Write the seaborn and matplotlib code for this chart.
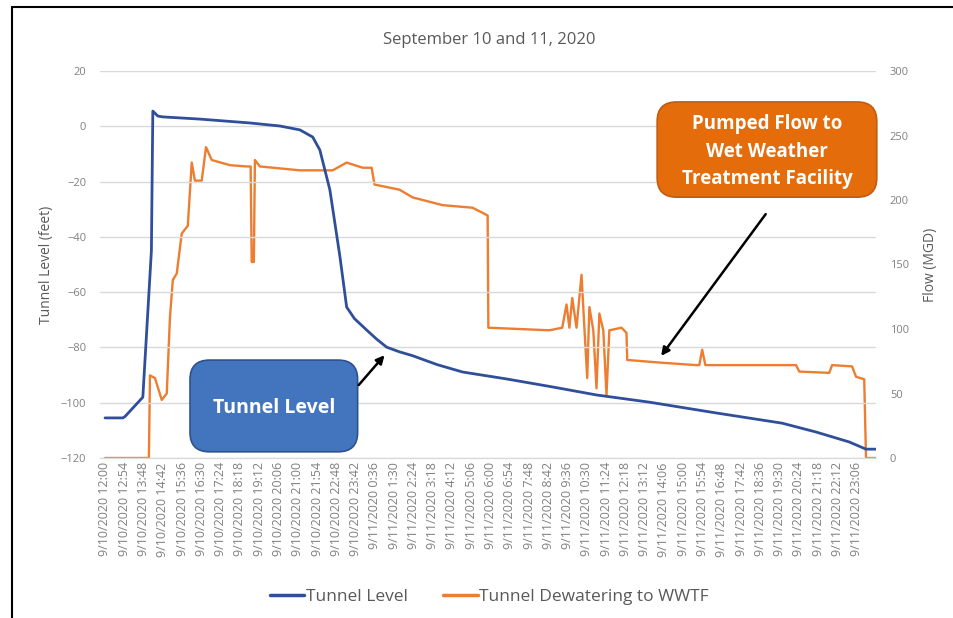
import pandas as pd
import seaborn as sns
import matplotlib.pyplot as plt
from matplotlib.lines import Line2D
from matplotlib.patches import FancyBboxPatch

# Tunnel level (feet)
level_times = [
    "2020-09-10 12:00", "2020-09-10 12:50", "2020-09-10 12:56", "2020-09-10 13:46",
    "2020-09-10 14:10", "2020-09-10 14:14", "2020-09-10 14:28", "2020-09-10 14:42",
    "2020-09-10 16:26", "2020-09-10 18:46", "2020-09-10 20:10", "2020-09-10 21:06",
    "2020-09-10 21:42", "2020-09-10 22:02", "2020-09-10 22:30", "2020-09-10 22:58",
    "2020-09-10 23:17", "2020-09-10 23:39", "2020-09-11 00:13", "2020-09-11 00:41",
    "2020-09-11 01:09", "2020-09-11 01:45", "2020-09-11 02:22", "2020-09-11 03:30",
    "2020-09-11 04:42", "2020-09-11 06:45", "2020-09-11 08:54", "2020-09-11 10:57",
    "2020-09-11 13:25", "2020-09-11 16:32", "2020-09-11 19:37", "2020-09-11 21:12",
    "2020-09-11 22:45", "2020-09-11 23:32", "2020-09-12 00:00",
]
level_ft = [
    -105.5, -105.5, -105.0, -98.0,
    -45.0, 5.5, 3.7, 3.4,
    2.6, 1.2, 0.1, -1.3,
    -3.9, -8.6, -23.0, -47.0,
    -65.4, -69.6, -73.7, -77.0,
    -79.9, -81.6, -83.0, -86.2,
    -88.9, -91.4, -94.3, -97.2,
    -99.8, -103.7, -107.4, -110.6,
    -114.2, -116.8, -116.8,
]

# Tunnel dewatering flow to WWTF (MGD)
flow_times = [
    "2020-09-10 12:00", "2020-09-10 14:03", "2020-09-10 14:06", "2020-09-10 14:20",
    "2020-09-10 14:39", "2020-09-10 14:53", "2020-09-10 15:02", "2020-09-10 15:10",
    "2020-09-10 15:21", "2020-09-10 15:35", "2020-09-10 15:52", "2020-09-10 16:03",
    "2020-09-10 16:12", "2020-09-10 16:31", "2020-09-10 16:43", "2020-09-10 16:59",
    "2020-09-10 17:50", "2020-09-10 18:37", "2020-09-10 18:48", "2020-09-10 18:51",
    "2020-09-10 18:57", "2020-09-10 19:00", "2020-09-10 19:14", "2020-09-10 21:06",
    "2020-09-10 22:38", "2020-09-10 23:17", "2020-09-11 00:02", "2020-09-11 00:27",
    "2020-09-11 00:35", "2020-09-11 01:45", "2020-09-11 02:22", "2020-09-11 03:46",
    "2020-09-11 05:10", "2020-09-11 05:52", "2020-09-11 05:54", "2020-09-11 08:45",
    "2020-09-11 09:21", "2020-09-11 09:33", "2020-09-11 09:41", "2020-09-11 09:49",
    "2020-09-11 10:01", "2020-09-11 10:15", "2020-09-11 10:23", "2020-09-11 10:31",
    "2020-09-11 10:37", "2020-09-11 10:48", "2020-09-11 10:57", "2020-09-11 11:05",
    "2020-09-11 11:16", "2020-09-11 11:25", "2020-09-11 11:33", "2020-09-11 12:07",
    "2020-09-11 12:21", "2020-09-11 12:23", "2020-09-11 13:53", "2020-09-11 15:36",
    "2020-09-11 15:45", "2020-09-11 15:53", "2020-09-11 16:02", "2020-09-11 20:16",
    "2020-09-11 20:25", "2020-09-11 21:49", "2020-09-11 21:57", "2020-09-11 22:53",
    "2020-09-11 23:04", "2020-09-11 23:27", "2020-09-11 23:32", "2020-09-12 00:00",
]
flow_mgd = [
    0, 0, 64, 62,
    45, 50, 109, 138,
    143, 174, 180, 229,
    215, 215, 241, 231,
    227, 226, 226, 152,
    152, 231, 226, 223,
    223, 229, 225, 225,
    212, 208, 202, 196,
    194, 188, 101, 99,
    101, 119, 101, 124,
    101, 142, 101, 62,
    117, 99, 54, 112,
    99, 49, 99, 101,
    97, 76, 74, 72,
    72, 84, 72, 72,
    67, 66, 72, 71,
    63, 61, 0, 0,
]

level_df = pd.DataFrame({"Time": pd.to_datetime(level_times), "Level": level_ft})
flow_df = pd.DataFrame({"Time": pd.to_datetime(flow_times), "Flow": flow_mgd})

blue = "#2F4F9A"
orange = "#ED7D31"
gray = "#595959"
light = "#808080"

sns.set_style("white")
plt.rcParams["font.family"] = ["Open Sans", "DejaVu Sans"]

fig = plt.figure(figsize=(9.54, 6.18), dpi=100)
ax = fig.add_axes([100 / 954, 1 - 458 / 618, 776 / 954, 387 / 618])
ax2 = ax.twinx()

sns.lineplot(x="Time", y="Level", data=level_df, ax=ax, color=blue, linewidth=2.0, legend=False)
sns.lineplot(x="Time", y="Flow", data=flow_df, ax=ax2, color=orange, linewidth=1.7, legend=False)
ax.set_zorder(ax2.get_zorder() + 1)
ax.patch.set_visible(False)

# axes limits and ticks
ax.set_ylim(-120, 20)
ax.set_yticks(range(-120, 21, 20))
ax2.set_ylim(0, 300)
ax2.set_yticks(range(0, 301, 50))
ax.set_xlim(pd.Timestamp("2020-09-10 11:46"), pd.Timestamp("2020-09-12 00:00"))

xticks = pd.date_range("2020-09-10 12:00", "2020-09-11 23:06", freq="54min")
ax.set_xticks(xticks)
ax.set_xticklabels([f"{t.month}/{t.day}/{t.year} {t.hour}:{t.minute:02d}" for t in xticks],
                   rotation=90, fontsize=9, color=light)

ax.grid(axis="y", color="#D9D9D9", linewidth=1)
ax.tick_params(axis="y", labelsize=8, colors=light, length=0, pad=10)
ax2.tick_params(axis="y", labelsize=8, colors=light, length=0, pad=10)
ax.tick_params(axis="x", length=0, pad=3)
for a in (ax, ax2):
    for side in ("top", "left", "right"):
        a.spines[side].set_visible(False)
    a.spines["bottom"].set_color("#D9D9D9")

ax.set_xlabel("")
ax.set_ylabel("Tunnel Level (feet)", fontsize=10, color=gray, labelpad=5)
ax2.set_ylabel("Flow (MGD)", fontsize=10, color=gray, labelpad=10)

fig.text(0.513, 1 - 40 / 618, "September 10 and 11, 2020", ha="center", va="center",
         fontsize=12, color=gray)

# callout boxes
tl_box = FancyBboxPatch((0.116, 0.016), 0.216, 0.237, transform=ax.transAxes,
                        boxstyle="round,pad=0,rounding_size=0.025", mutation_aspect=2.0,
                        facecolor="#4275BD", edgecolor="#2F528F", linewidth=1.2, zorder=5,
                        clip_on=False)
ax.add_patch(tl_box)
ax.text(0.224, 0.128, "Tunnel Level", transform=ax.transAxes, ha="center", va="center",
        fontsize=14, fontweight="bold", color="white", zorder=6)

pf_box = FancyBboxPatch((0.718, 0.674), 0.283, 0.246, transform=ax.transAxes,
                        boxstyle="round,pad=0,rounding_size=0.025", mutation_aspect=2.0,
                        facecolor="#E46C0A", edgecolor="#C55A11", linewidth=1.2, zorder=5,
                        clip_on=False)
ax.add_patch(pf_box)
ax.text(0.8595, 0.791, "Pumped Flow to\nWet Weather\nTreatment Facility", transform=ax.transAxes,
        ha="center", va="center", fontsize=13.5, fontweight="bold", color="white",
        linespacing=1.5, zorder=6)

ax.annotate("", xy=(0.369, 0.271), xytext=(0.331, 0.183), xycoords="axes fraction",
            arrowprops=dict(arrowstyle="-|>", color="black", lw=1.8, mutation_scale=12), zorder=6)
ax.annotate("", xy=(0.721, 0.258), xytext=(0.860, 0.636), xycoords="axes fraction",
            arrowprops=dict(arrowstyle="-|>", color="black", lw=1.8, mutation_scale=12), zorder=6)

# legend
handles = [Line2D([0], [0], color=blue, lw=2.5), Line2D([0], [0], color=orange, lw=2.5)]
fig.legend(handles, ["Tunnel Level", "Tunnel Dewatering to WWTF"], loc="center",
           bbox_to_anchor=(0.513, 0.034), ncol=2, frameon=False, fontsize=12.5,
           labelcolor=gray, handlelength=2.0, handletextpad=0.1, columnspacing=2.0)

# outer frame of the pasted picture
fig.add_artist(Line2D([12 / 954, 12 / 954], [0, 1 - 7 / 618], color="black", lw=1.5))
fig.add_artist(Line2D([12 / 954, 1], [1 - 7 / 618, 1 - 7 / 618], color="black", lw=1.5))

fig.savefig("out.png", dpi=100)
